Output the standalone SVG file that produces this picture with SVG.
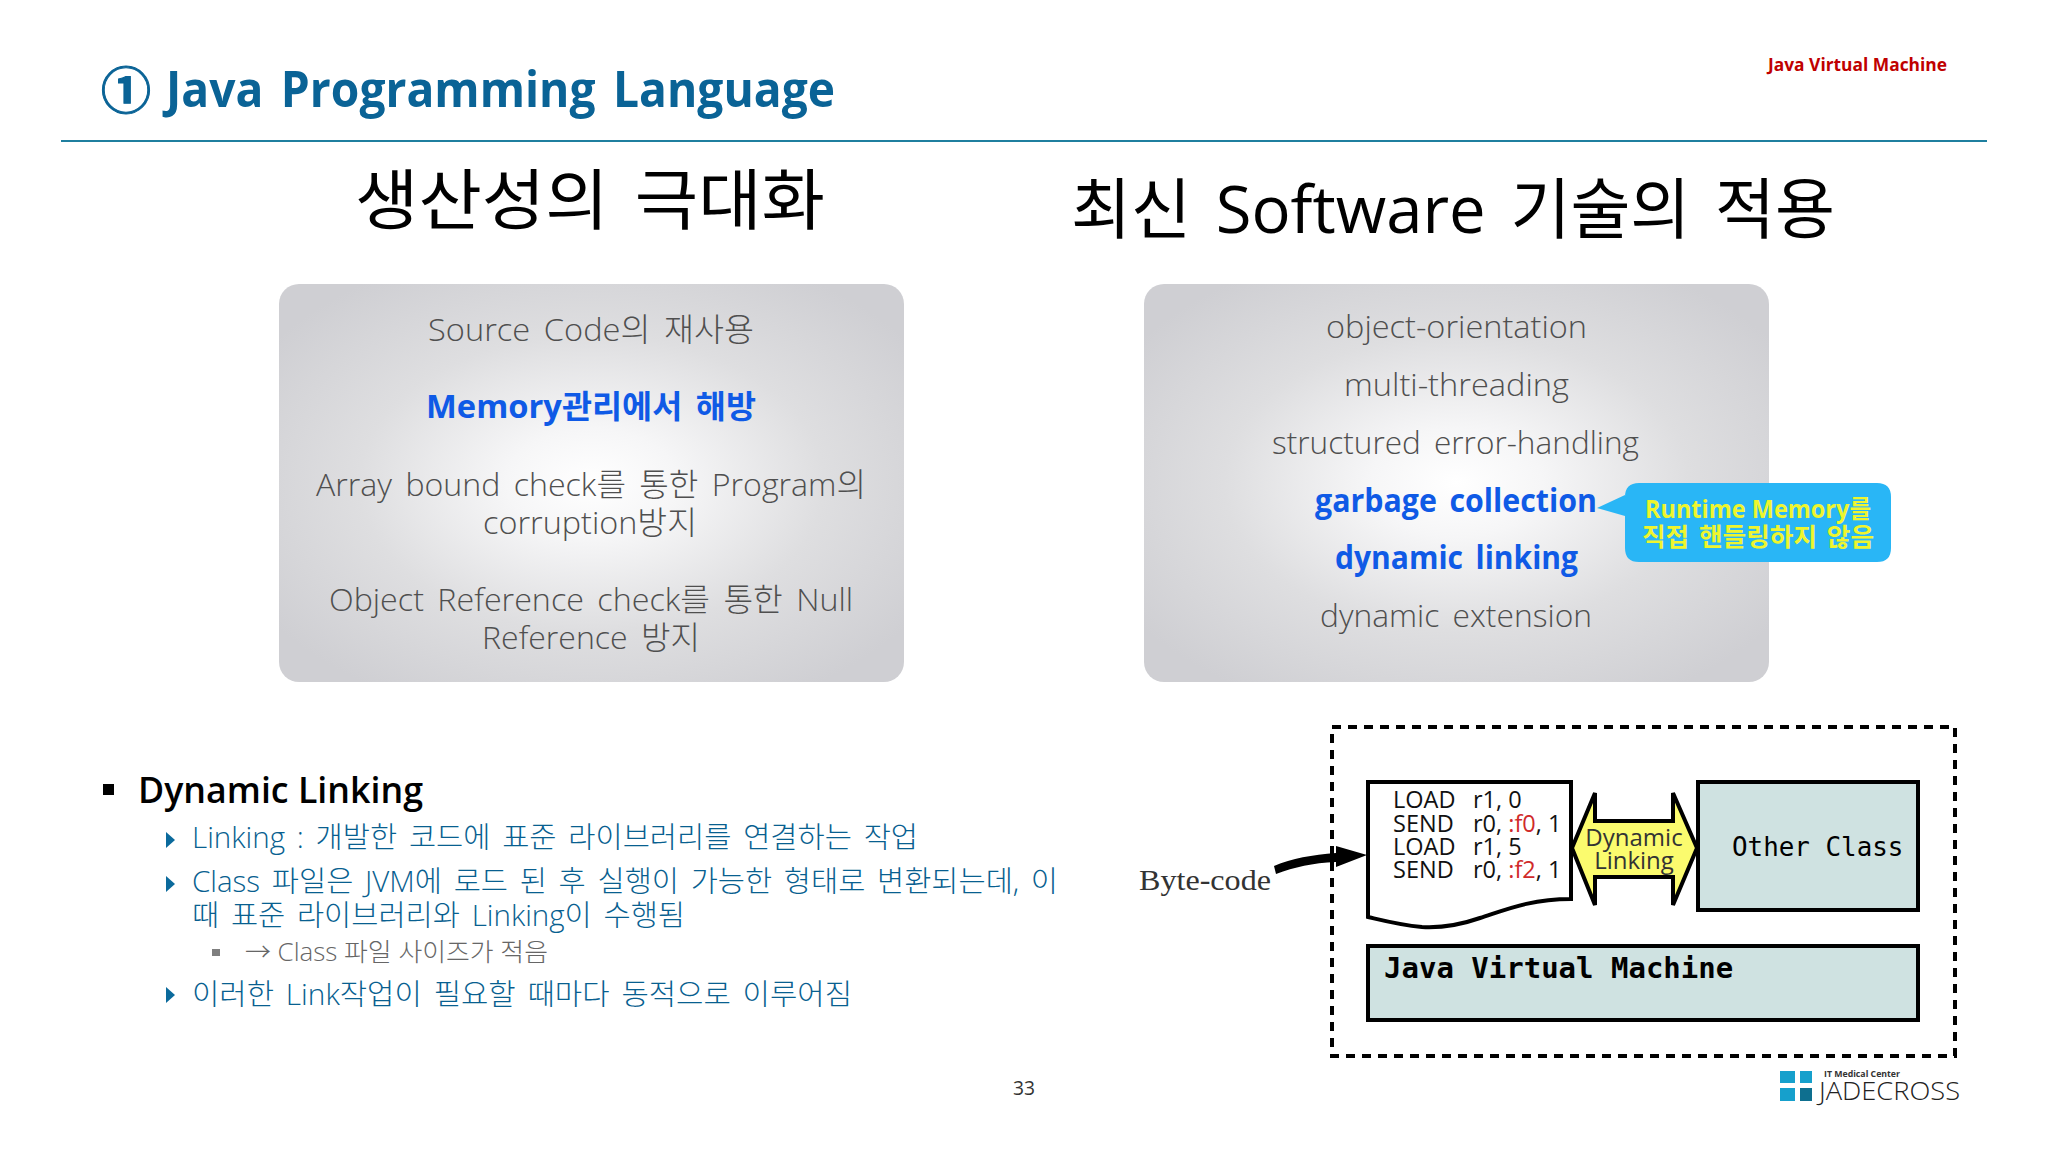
<svg xmlns="http://www.w3.org/2000/svg" width="2048" height="1152" viewBox="0 0 2048 1152">
<defs>
<radialGradient id="panel" cx="50%" cy="50%" r="62%"><stop offset="0" stop-color="#ffffff"/><stop offset="0.22" stop-color="#f6f6f7"/><stop offset="0.6" stop-color="#dedee0"/><stop offset="1" stop-color="#cfcfd3"/></radialGradient>
</defs>
<style>
text{font-family:"Open Sans","Noto Sans CJK KR",sans-serif;}
.g{font-size:32px;fill:#4f4f4f;font-weight:300;word-spacing:5px;}
.b{font-size:32px;fill:#0f5ae6;font-weight:700;word-spacing:5px;}
.h{font-size:66px;fill:#000;font-weight:400;word-spacing:8px;}
.l{font-size:29px;fill:#085f90;font-weight:300;word-spacing:4px;}
.c{font-size:23.5px;fill:#111;}
.r{fill:#d02a2a;}
.mono{font-family:"DejaVu Sans Mono",monospace;fill:#000;}
.teal{fill:#cfe2e1;stroke:#000;stroke-width:4;}
.tri{fill:#0b6a9c;}
.lg{fill:#16a0cc;}
</style>
<rect width="2048" height="1152" fill="#fff"/>
<g id="header">
<text x="101" y="109" font-size="50" font-weight="700" fill="#0a6396" stroke="#0a6396" stroke-width="1">①</text>
<text x="166" y="107" font-size="50" font-weight="700" fill="#0a6396" word-spacing="6" textLength="669" lengthAdjust="spacingAndGlyphs">Java Programming Language</text>
<line x1="61" y1="141" x2="1987" y2="141" stroke="#1f7f9f" stroke-width="2"/>
<text x="1768" y="71" font-size="18" font-weight="700" fill="#c00000" textLength="179" lengthAdjust="spacingAndGlyphs">Java Virtual Machine</text>
<text class="h" x="355" y="224" textLength="470" lengthAdjust="spacingAndGlyphs">생산성의 극대화</text>
<text class="h" x="1071" y="233" textLength="764" lengthAdjust="spacingAndGlyphs">최신 Software 기술의 적용</text>
</g>
<g id="panel-left">
<rect x="279" y="284" width="625" height="398" rx="20" fill="url(#panel)"/>
<text class="g" x="428" y="341" textLength="326" lengthAdjust="spacingAndGlyphs">Source Code의 재사용</text>
<text class="b" x="426" y="418" textLength="330" lengthAdjust="spacingAndGlyphs">Memory관리에서 해방</text>
<text class="g" x="316" y="496" textLength="550" lengthAdjust="spacingAndGlyphs">Array bound check를 통한 Program의</text>
<text class="g" x="483" y="534" textLength="214" lengthAdjust="spacingAndGlyphs">corruption방지</text>
<text class="g" x="329" y="611" textLength="524" lengthAdjust="spacingAndGlyphs">Object Reference check를 통한 Null</text>
<text class="g" x="482" y="649" textLength="218" lengthAdjust="spacingAndGlyphs">Reference 방지</text>
</g>
<g id="panel-right">
<rect x="1144" y="284" width="625" height="398" rx="20" fill="url(#panel)"/>
<text class="g" x="1326" y="338" textLength="261" lengthAdjust="spacingAndGlyphs">object-orientation</text>
<text class="g" x="1344" y="396" textLength="225" lengthAdjust="spacingAndGlyphs">multi-threading</text>
<text class="g" x="1272" y="454" textLength="367" lengthAdjust="spacingAndGlyphs">structured error-handling</text>
<text class="b" x="1315" y="512" textLength="282" lengthAdjust="spacingAndGlyphs">garbage collection</text>
<text class="b" x="1335" y="569" textLength="243" lengthAdjust="spacingAndGlyphs">dynamic linking</text>
<text class="g" x="1320" y="627" textLength="272" lengthAdjust="spacingAndGlyphs">dynamic extension</text>
</g>
<g id="callout">
<path d="M1597 508L1625 495V497Q1625 483 1639 483H1877Q1891 483 1891 497V548Q1891 562 1877 562H1639Q1625 562 1625 548V516Z" fill="#29b6f6"/>
<text x="1645" y="518" font-size="25" font-weight="700" fill="#eef52e" textLength="226" lengthAdjust="spacingAndGlyphs">Runtime Memory를</text>
<text x="1642" y="546" font-size="25" font-weight="700" fill="#eef52e" word-spacing="3" textLength="232" lengthAdjust="spacingAndGlyphs">직접 핸들링하지 않음</text>
</g>
<g id="notes">
<rect x="103" y="784" width="11" height="11" fill="#000"/>
<text x="138" y="803" font-size="36" font-weight="600" fill="#000" textLength="285" lengthAdjust="spacingAndGlyphs">Dynamic Linking</text>
<path class="tri" d="M166 832L175 840L166 848Z"/>
<text class="l" x="192" y="848" textLength="726" lengthAdjust="spacingAndGlyphs">Linking : 개발한 코드에 표준 라이브러리를 연결하는 작업</text>
<path class="tri" d="M166 876L175 884L166 892Z"/>
<text class="l" x="192" y="892" textLength="866" lengthAdjust="spacingAndGlyphs">Class 파일은 JVM에 로드 된 후 실행이 가능한 형태로 변환되는데, 이</text>
<text class="l" x="192" y="926" textLength="493" lengthAdjust="spacingAndGlyphs">때 표준 라이브러리와 Linking이 수행됨</text>
<rect x="212" y="949" width="8" height="7" fill="#7f7f7f"/>
<text x="245" y="961" font-size="25" font-weight="300" fill="#666" textLength="303" lengthAdjust="spacingAndGlyphs">→ Class 파일 사이즈가 적음</text>
<path class="tri" d="M166 987L175 995L166 1003Z"/>
<text class="l" x="192" y="1005" textLength="660" lengthAdjust="spacingAndGlyphs">이러한 Link작업이 필요할 때마다 동적으로 이루어짐</text>
</g>
<text id="page" x="1013" y="1095" font-size="20" fill="#333" textLength="22" lengthAdjust="spacingAndGlyphs">33</text>
<rect id="jvm-frame" x="1332" y="727" width="623" height="329" fill="none" stroke="#000" stroke-width="4" stroke-dasharray="9 7"/>
<g id="byte-code-label"><text x="1139" y="890" font-size="30" fill="#333" style="font-family:'Liberation Serif',serif" textLength="132" lengthAdjust="spacingAndGlyphs">Byte-code</text></g>
<g id="connectors">
<path d="M1274 866C1292 858 1312 855 1336 853V846L1367 855L1336 867V862C1312 863 1295 867 1276 874Z" fill="#000"/>
</g>
<g id="byte-code-doc">
<path d="M1368 782H1571V899C1530 899 1505 910 1480 918C1460 925 1440 928 1422 927C1400 925 1385 921 1368 917Z" fill="#fff" stroke="#000" stroke-width="4"/>
<text class="c"><tspan x="1393" y="808">LOAD</tspan><tspan x="1473" y="808">r1, 0</tspan><tspan x="1393" y="832">SEND</tspan><tspan x="1473" y="832">r0, </tspan><tspan class="r">:f0</tspan><tspan>, 1</tspan><tspan x="1393" y="855">LOAD</tspan><tspan x="1473" y="855">r1, 5</tspan><tspan x="1393" y="878">SEND</tspan><tspan x="1473" y="878">r0, </tspan><tspan class="r">:f2</tspan><tspan>, 1</tspan></text>
</g>
<g id="dynamic-linking">
<path d="M1572 848L1595 793V821H1673V793L1697 848L1673 905V877H1595V905Z" fill="#fbfb6e" stroke="#000" stroke-width="4"/>
<text font-size="24" fill="#333" text-anchor="middle"><tspan x="1634" y="846">Dynamic</tspan><tspan x="1634" y="869">Linking</tspan></text>
</g>
<g id="other-class">
<rect class="teal" x="1698" y="782" width="220" height="128"/>
<text class="mono" x="1732" y="856" font-size="25.9">Other Class</text>
</g>
<g id="jvm">
<rect class="teal" x="1368" y="946" width="550" height="74"/>
<text class="mono" x="1384" y="978" font-size="29" font-weight="700">Java Virtual Machine</text>
</g>
<g id="logo">
<rect class="lg" x="1780" y="1071" width="15" height="12"/>
<rect class="lg" x="1800" y="1071" width="12" height="12"/>
<rect class="lg" x="1780" y="1088" width="15" height="13"/>
<rect x="1800" y="1088" width="12" height="13" fill="#0e6f8f"/>
<text x="1824" y="1077" font-size="8" font-weight="700" fill="#333" textLength="76" lengthAdjust="spacingAndGlyphs">IT Medical Center</text>
<text x="1819" y="1100" font-size="26" font-weight="300" fill="#222" textLength="141" lengthAdjust="spacingAndGlyphs">JADECROSS</text>
</g>
</svg>
